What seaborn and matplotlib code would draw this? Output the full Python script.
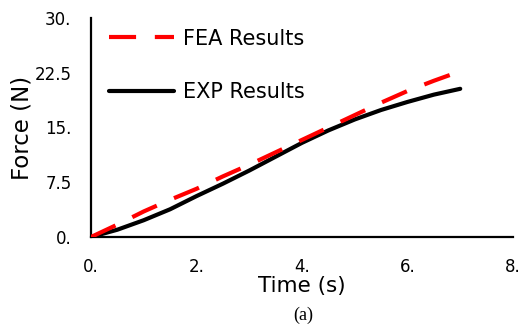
import matplotlib
matplotlib.use("Agg")
import matplotlib.pyplot as plt
import seaborn as sns
import pandas as pd
from matplotlib.ticker import FixedLocator, FixedFormatter
from matplotlib.lines import Line2D

time_s = [0, 0.5, 1, 1.5, 2, 2.5, 3, 3.5, 4, 4.5, 5, 5.5, 6, 6.5, 7]
fea_force = [0, 1.7, 3.5, 5.1, 6.6, 8.3, 9.9, 11.6, 13.3, 15.0, 16.7, 18.4, 20.0, 21.4, 22.7]
exp_force = [0, 1.0, 2.3, 3.8, 5.6, 7.3, 9.1, 11.0, 12.9, 14.6, 16.1, 17.4, 18.5, 19.5, 20.3]
x_ticks = [0, 2, 4, 6, 8]
x_tick_labels = ["0.", "2.", "4.", "6.", "8."]
y_ticks = [0, 7.5, 15, 22.5, 30]
y_tick_labels = ["0.", "7.5", "15.", "22.5", "30."]
series_names = ["FEA Results", "EXP Results"]

df = pd.DataFrame({
    "Time": time_s * 2,
    "Force": fea_force + exp_force,
    "Series": [series_names[0]] * len(time_s) + [series_names[1]] * len(time_s),
})

sns.set_theme(style="white")
plt.rcParams["font.family"] = ["DejaVu Sans"]

fig = plt.figure(figsize=(5.19, 3.27), dpi=100)
ax = fig.add_axes([0.1753, 0.2752, 0.8131, 0.6698])

sns.lineplot(data=df, x="Time", y="Force", hue="Series", style="Series",
             palette={series_names[0]: "#ff0000", series_names[1]: "#000000"},
             dashes={series_names[0]: (6.5, 4.5), series_names[1]: ""},
             linewidth=3, ax=ax, legend=False)

lines = ax.get_lines()
lines[0].set_zorder(4)
lines[1].set_zorder(3)
for ln in lines:
    ln.set_solid_joinstyle("round")
    ln.set_dash_capstyle("butt")

ax.set_xlim(0, 8)
ax.set_ylim(0, 30)
ax.xaxis.set_major_locator(FixedLocator(x_ticks))
ax.xaxis.set_major_formatter(FixedFormatter(x_tick_labels))
ax.yaxis.set_major_locator(FixedLocator(y_ticks))
ax.yaxis.set_major_formatter(FixedFormatter(y_tick_labels))
ax.tick_params(axis="both", length=0, labelsize=12, colors="black")
ax.tick_params(axis="x", pad=15)
ax.tick_params(axis="y", pad=14)

for s in ["top", "right"]:
    ax.spines[s].set_visible(False)
for s in ["left", "bottom"]:
    ax.spines[s].set_color("black")
    ax.spines[s].set_linewidth(1.6)

ax.set_xlabel("Time (s)", fontsize=15.5, color="black", labelpad=0)
ax.set_ylabel("Force (N)", fontsize=16.5, color="black", labelpad=1)

handles = [Line2D([], [], color="#ff0000", lw=3, dashes=(6.5, 4.5)),
           Line2D([], [], color="#000000", lw=3)]
leg = ax.legend(handles, series_names, loc="upper left", frameon=False,
                fontsize=15, handlelength=3.1, handletextpad=0.42,
                labelspacing=1.6, borderaxespad=0,
                bbox_to_anchor=(0.024, 0.99))
for t in leg.get_texts():
    t.set_color("black")

fig.text(0.584, 0.01, "(a)", fontsize=13, family="Liberation Serif",
         ha="center", va="bottom", color="black")

fig.savefig("out.png", dpi=100)
